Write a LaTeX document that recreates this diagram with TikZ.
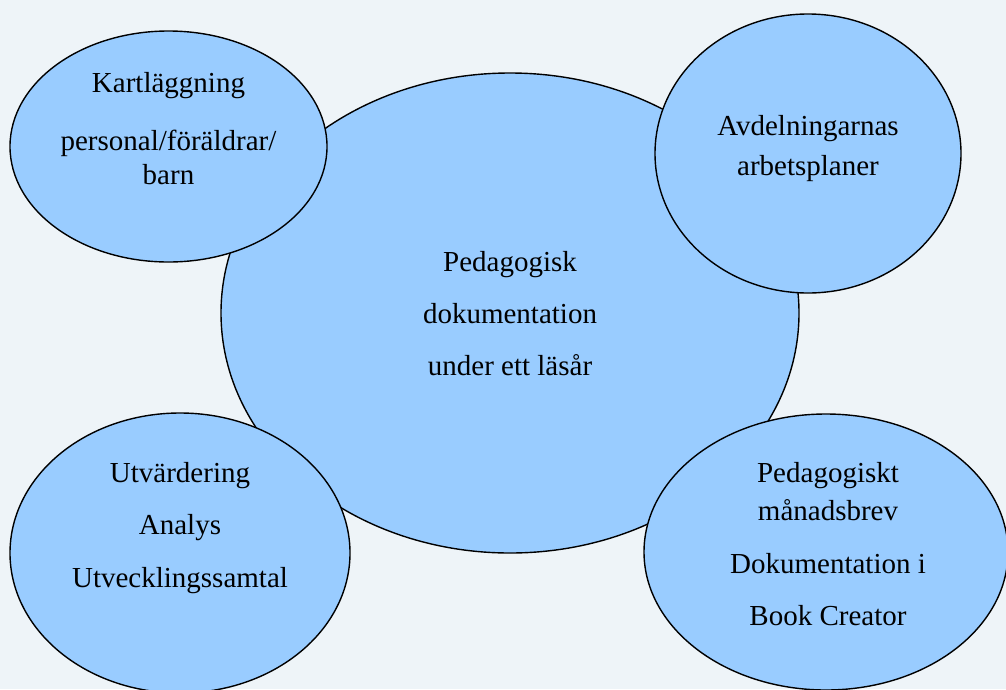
\documentclass[tikz,border=0pt]{standalone}
\usepackage{fontspec}
\setmainfont{Liberation Serif}
\usetikzlibrary{shapes.geometric}
\definecolor{bgcol}{HTML}{EEF4F8}
\definecolor{bubble}{HTML}{99CCFF}
\tikzset{
  bub/.style={ellipse, draw=black, line width=1.4pt, fill=bubble, inner sep=0pt},
  txt/.style={anchor=base, inner sep=0pt, font=\fontsize{29}{34}\selectfont}
}
\begin{document}
\begin{tikzpicture}[x=1pt,y=-1pt]
\fill[bgcol] (0,0) rectangle (1006,689);
\useasboundingbox (0,0) rectangle (1006,689);
% central
\node[bub, minimum width=578pt, minimum height=480pt] (c) at (510,313) {};
% satellites
\node[bub, minimum width=317pt, minimum height=231pt] (tl) at (168.5,146.5) {};
\node[bub, minimum width=306pt, minimum height=279pt] (tr) at (808,153.5) {};
\node[bub, minimum width=340pt, minimum height=280pt] (bl) at (180,553) {};
\node[bub, minimum width=364pt, minimum height=276pt] (br) at (826,552) {};
% texts
\node[txt] (c1) at (510,271) {Pedagogisk};
\node[txt] (c2) at (510,323) {dokumentation};
\node[txt] (c3) at (510,375) {under ett läsår};
\node[txt] (tl1) at (168.5,92) {Kartläggning};
\node[txt] (tl2) at (168.5,150) {personal/föräldrar/};
\node[txt] (tl3) at (168.5,184) {barn};
\node[txt] (tr1) at (808,135) {Avdelningarnas};
\node[txt] (tr2) at (808,175) {arbetsplaner};
\node[txt] (bl1) at (180,482) {Utvärdering};
\node[txt] (bl2) at (180,534) {Analys};
\node[txt] (bl3) at (180,587) {Utvecklingssamtal};
\node[txt] (br1) at (828,482) {Pedagogiskt};
\node[txt] (br2) at (828,520) {månadsbrev};
\node[txt] (br3) at (828,573) {Dokumentation i};
\node[txt] (br4) at (828,625) {Book Creator};
\end{tikzpicture}
\end{document}
